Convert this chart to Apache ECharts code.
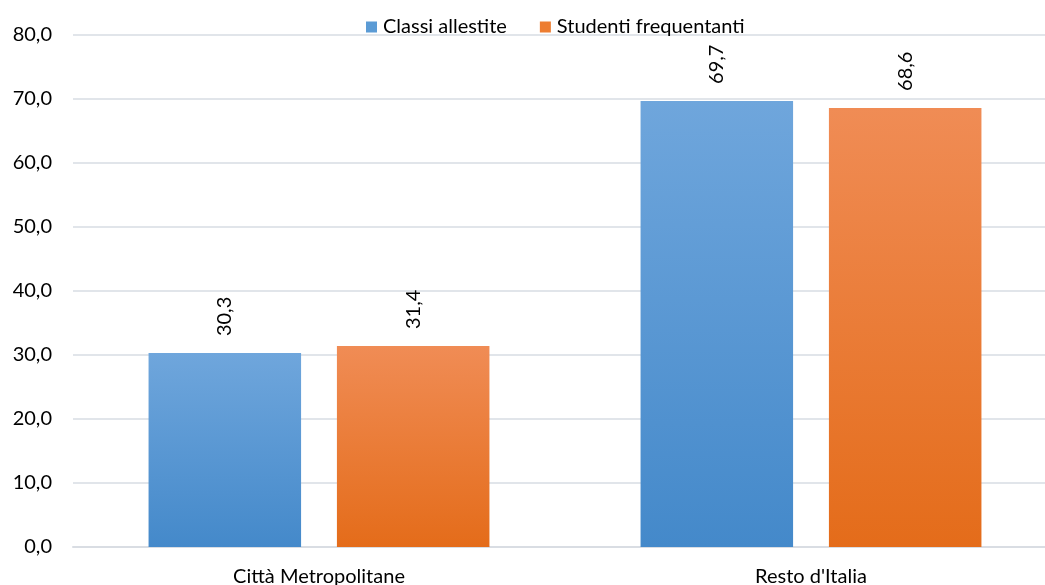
<!DOCTYPE html>
<html><head><meta charset="utf-8">
<script src="https://cdn.jsdelivr.net/npm/echarts@6/dist/echarts.min.js"></script>
<style>html,body{margin:0;padding:0;background:#fff}#c{width:1045px;height:585px}</style>
</head><body><div id="c"></div>
<script>
const categories = ["Città Metropolitane", "Resto d'Italia"];
const seriesNames = ["Classi allestite", "Studenti frequentanti"];
const classiAllestite = [30.3, 69.7];
const studentiFrequentanti = [31.4, 68.6];

const FONT = 'Lato, "Open Sans", sans-serif';
const FS = 20;
const fmt = v => v.toFixed(1).replace('.', ',');
const grad = (top, bottom) => new echarts.graphic.LinearGradient(0, 0, 0, 1, [{offset: 0, color: top}, {offset: 1, color: bottom}]);
const blue = grad('#6fa6dc', '#4489ca');
const orange = grad('#f08c55', '#e46c1a');

const label = {
  show: true, position: 'top', rotate: 90, align: 'left', verticalAlign: 'middle',
  distance: 17, fontFamily: FONT, fontSize: FS, color: '#000',
  formatter: p => fmt(p.value)
};

const chart = echarts.init(document.getElementById('c'));
chart.setOption({
  animation: false,
  textStyle: {fontFamily: FONT},
  legend: {
    top: 12, left: 361, itemWidth: 11, itemHeight: 11, itemGap: 33, icon: 'rect',
    textStyle: {fontFamily: FONT, fontSize: FS, color: '#000', padding: [0, 0, 0, 1]},
    data: [{name: seriesNames[0], itemStyle: {color: '#5b9bd5'}}, {name: seriesNames[1], itemStyle: {color: '#ed7d31'}}]
  },
  grid: {left: 73, width: 984, top: 35, bottom: 38, outerBoundsMode: 'none', containLabel: false},
  xAxis: {
    type: 'category', data: categories,
    axisLine: {show: true, lineStyle: {color: '#d9dde3', width: 2}},
    axisTick: {show: false},
    axisLabel: {fontFamily: FONT, fontSize: FS, color: '#000', margin: 20}
  },
  yAxis: {
    type: 'value', min: 0, max: 80, interval: 10,
    axisLine: {show: false}, axisTick: {show: false},
    splitLine: {lineStyle: {color: '#e1e5ea', width: 2}},
    axisLabel: {fontFamily: FONT, fontSize: FS, color: '#000', margin: 21, formatter: v => fmt(v)}
  },
  series: [
    {name: seriesNames[0], type: 'bar', data: classiAllestite, barWidth: '31%', barGap: '23.5%', itemStyle: {color: blue}, label},
    {name: seriesNames[1], type: 'bar', data: studentiFrequentanti, barWidth: '31%', itemStyle: {color: orange}, label}
  ]
});
</script></body></html>
